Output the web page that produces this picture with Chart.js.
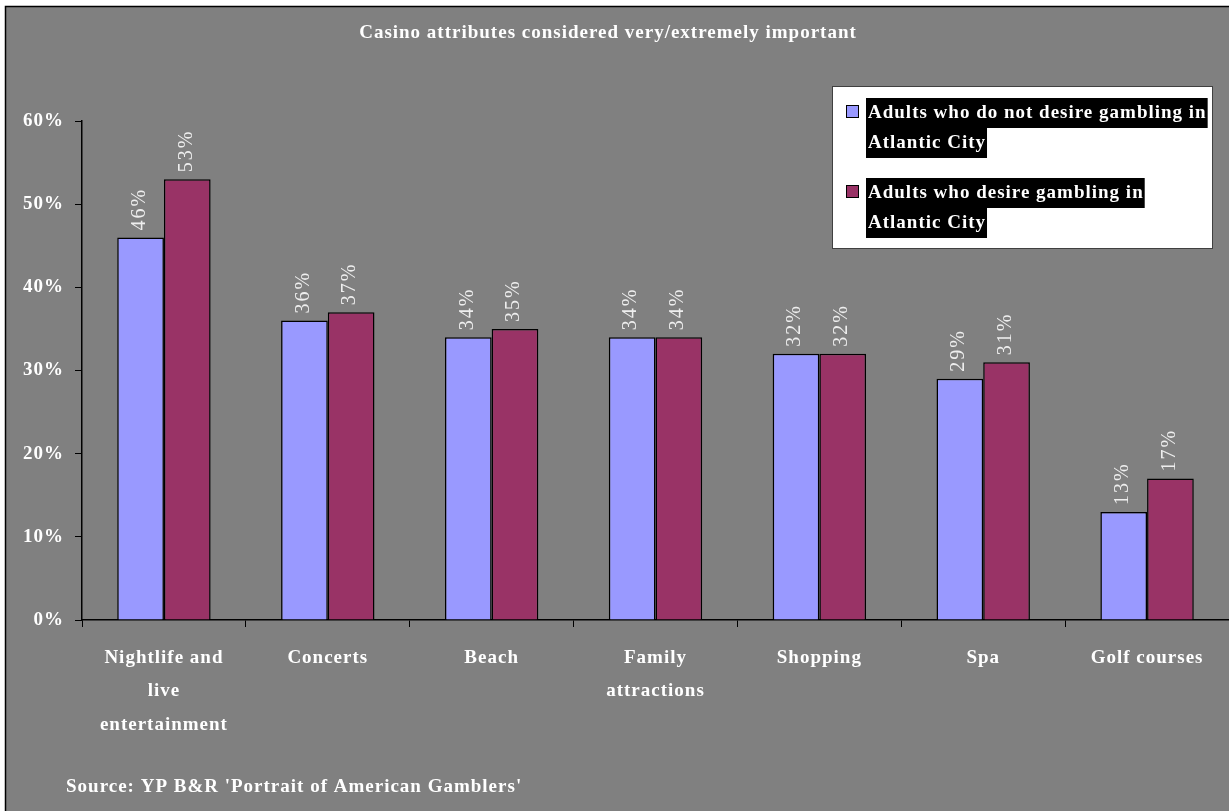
<!DOCTYPE html>
<html>
<head>
<meta charset="utf-8">
<script src="https://cdn.jsdelivr.net/npm/chart.js@4/dist/chart.umd.min.js"></script>
<style>
  html, body { margin: 0; padding: 0; background: #808080; }
  #wrap { width: 1229px; height: 811px; position: relative; }
</style>
</head>
<body>
<div id="wrap"><canvas id="out" width="1229" height="811"></canvas></div>
<script>
const categories = [
  ["Nightlife and", "live", "entertainment"],
  "Concerts",
  "Beach",
  ["Family", "attractions"],
  "Shopping",
  "Spa",
  "Golf courses"
];
const notDesire = [46, 36, 34, 34, 32, 29, 13];
const desire = [53, 37, 35, 34, 32, 31, 17];
const seriesNames = [
  ["Adults who do not desire gambling in", "Atlantic City"],
  ["Adults who desire gambling in", "Atlantic City"]
];
const chartTitle = "Casino attributes considered very/extremely important";
const sourceNote = "Source: YP B&R 'Portrait of American Gamblers'";

const serif = "'Liberation Serif', 'DejaVu Serif', serif";
const blue = "#9999FF";
const red = "#993366";

// frame, title, source note and the boxed legend
const decorPlugin = {
  id: "decor",
  beforeDraw(chart) {
    const ctx = chart.ctx;
    ctx.save();
    ctx.fillStyle = "#ffffff";
    ctx.fillRect(0, 0, chart.width, chart.height);
    ctx.fillStyle = "#808080";
    ctx.fillRect(5, 6, chart.width - 5, chart.height - 6);
    ctx.strokeStyle = "#000";
    ctx.lineWidth = 1.5;
    ctx.beginPath();
    ctx.moveTo(5.5, chart.height);
    ctx.lineTo(5.5, 6.5);
    ctx.lineTo(chart.width, 6.5);
    ctx.stroke();
    ctx.restore();
    // wider look for the serif text, kept for the axis labels too
    ctx.letterSpacing = "1px";
  },
  afterDraw(chart) {
    const ctx = chart.ctx;
    ctx.save();
    ctx.letterSpacing = "1px";
    ctx.fillStyle = "#ffffff";
    ctx.font = "bold 19px " + serif;
    ctx.textAlign = "center";
    ctx.textBaseline = "middle";
    ctx.fillText(chartTitle, 608, 33);

    ctx.textAlign = "left";
    ctx.fillText(sourceNote, 66, 787);

    // legend box
    ctx.fillStyle = "#ffffff";
    ctx.fillRect(832, 86, 380, 162);
    ctx.strokeStyle = "#404040";
    ctx.lineWidth = 1;
    ctx.strokeRect(832.5, 86.5, 380, 162);
    const colors = [blue, red];
    const tops = [98, 178];
    ctx.font = "bold 19px " + serif;
    ctx.textBaseline = "middle";
    seriesNames.forEach((lines, i) => {
      const y0 = tops[i];
      ctx.fillStyle = colors[i];
      ctx.fillRect(846, y0 + 7, 13, 13);
      ctx.strokeStyle = "#000";
      ctx.strokeRect(846.5, y0 + 7.5, 12, 12);
      lines.forEach((t, j) => {
        const w = ctx.measureText(t).width;
        const y = y0 + j * 30;
        ctx.fillStyle = "#000";
        ctx.fillRect(866, y, w + 3, 30);
        ctx.fillStyle = "#fff";
        ctx.fillText(t, 868, y + 15);
      });
    });

    // rotated value labels above the bars
    ctx.font = "20px " + serif;
    ctx.letterSpacing = "2px";
    ctx.fillStyle = "#eeeeee";
    ctx.textAlign = "left";
    ctx.textBaseline = "middle";
    chart.data.datasets.forEach((ds, di) => {
      chart.getDatasetMeta(di).data.forEach((bar, i) => {
        ctx.save();
        ctx.translate(bar.x - 1, bar.y - 7);
        ctx.rotate(-Math.PI / 2);
        ctx.fillText(ds.data[i] + "%", 0, 0);
        ctx.restore();
      });
    });
    ctx.restore();
  }
};

const chartConfig = {
  type: "bar",
  data: {
    labels: categories,
    datasets: [
      {
        label: seriesNames[0].join(" "),
        data: notDesire,
        backgroundColor: blue,
        borderColor: "#000",
        borderWidth: 1.5
      },
      {
        label: seriesNames[1].join(" "),
        data: desire,
        backgroundColor: red,
        borderColor: "#000",
        borderWidth: 1.5
      }
    ]
  },
  options: {
    responsive: false,
    animation: false,
    layout: { padding: { left: 0, right: 0, top: 121, bottom: 0 } },
    plugins: {
      legend: { display: false },
      title: { display: false },
      tooltip: { enabled: false }
    },
    datasets: {
      bar: { categoryPercentage: 0.57, barPercentage: 1.0 }
    },
    scales: {
      x: {
        grid: {
          display: true,
          drawOnChartArea: false,
          drawTicks: true,
          tickLength: 7,
          color: "#000",
          offset: true
        },
        border: { display: true, color: "#000", width: 1.5 },
        ticks: {
          color: "#ffffff",
          font: { family: serif, size: 19, weight: "bold", lineHeight: 1.74 },
          maxRotation: 0,
          autoSkip: false,
          padding: 15
        },
        afterFit(scale) { scale.height = 191; }
      },
      y: {
        min: 0,
        max: 60,
        grid: {
          display: true,
          drawOnChartArea: false,
          drawTicks: true,
          tickLength: 7,
          color: "#000"
        },
        border: { display: true, color: "#000", width: 1.5 },
        ticks: {
          stepSize: 10,
          color: "#ffffff",
          font: { family: serif, size: 19, weight: "bold" },
          padding: 11,
          callback: v => v + "%"
        },
        afterFit(scale) { scale.width = 82; }
      }
    }
  },
  plugins: [decorPlugin]
};

const canvasCtx = document.getElementById("out").getContext("2d");
window.chart = new Chart(canvasCtx, chartConfig);
</script>
</body>
</html>
